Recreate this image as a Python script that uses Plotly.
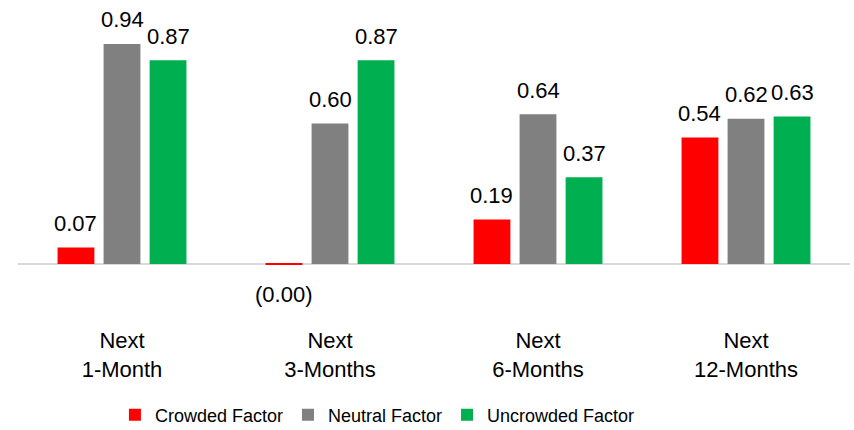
import plotly.graph_objects as go

# Forward return horizons and average factor returns per crowding bucket
horizons = ["Next 1-Month", "Next 3-Months", "Next 6-Months", "Next 12-Months"]
horizon_labels = ["Next<br>1-Month", "Next<br>3-Months", "Next<br>6-Months", "Next<br>12-Months"]
crowded = [0.07, -0.003, 0.19, 0.54]
neutral = [0.94, 0.60, 0.64, 0.62]
uncrowded = [0.87, 0.87, 0.37, 0.63]

series = [
    ("Crowded Factor", crowded, "#FF0000"),
    ("Neutral Factor", neutral, "#808080"),
    ("Uncrowded Factor", uncrowded, "#00B050"),
]

FONT = "Liberation Sans, Arial, sans-serif"
BARGAP = 0.336


def fmt(v):
    s = f"{abs(v):.2f}"
    return f"({s})" if v < 0 else s


fig = go.Figure()
for name, vals, color in series:
    fig.add_trace(go.Bar(
        x=horizons, y=vals, name=name,
        marker=dict(color=color, line=dict(width=0)),
        hoverinfo="x+y+name",
    ))

# Value labels above (or below, for negatives) each bar
slot = (1 - BARGAP) / len(series)
annotations = []
for k, (name, vals, color) in enumerate(series):
    for i, v in enumerate(vals):
        xpos = i + (k - (len(series) - 1) / 2) * slot
        annotations.append(dict(
            x=xpos, y=v, xref="x", yref="y",
            text=fmt(v), showarrow=False,
            yanchor="middle",
            yshift=24 if v >= 0 else -30,
            font=dict(family=FONT, size=22, color="#000000"),
        ))

fig.update_layout(
    width=854, height=430,
    margin=dict(l=18, r=4, t=0, b=105, autoexpand=False),
    paper_bgcolor="white", plot_bgcolor="white",
    barmode="group", bargap=BARGAP, bargroupgap=0.2,
    font=dict(family=FONT, color="#000000"),
    showlegend=True,
    legend=dict(
        orientation="h", x=0.432, xanchor="center", y=-0.277, yanchor="middle",
        font=dict(family=FONT, size=18, color="#000000"),
        itemclick=False, itemdoubleclick=False,
    ),
    annotations=annotations,
    xaxis=dict(
        tickvals=horizons, ticktext=horizon_labels,
        tickfont=dict(family=FONT, size=22, color="#000000"),
        showline=False, showgrid=False, ticks="", automargin=False,
    ),
    yaxis=dict(
        range=[-0.261, 1.128],
        showticklabels=False, showgrid=False, showline=False, ticks="",
        zeroline=True, zerolinecolor="#D9D9D9", zerolinewidth=2,
        automargin=False,
    ),
)

fig.write_html("out.html")
